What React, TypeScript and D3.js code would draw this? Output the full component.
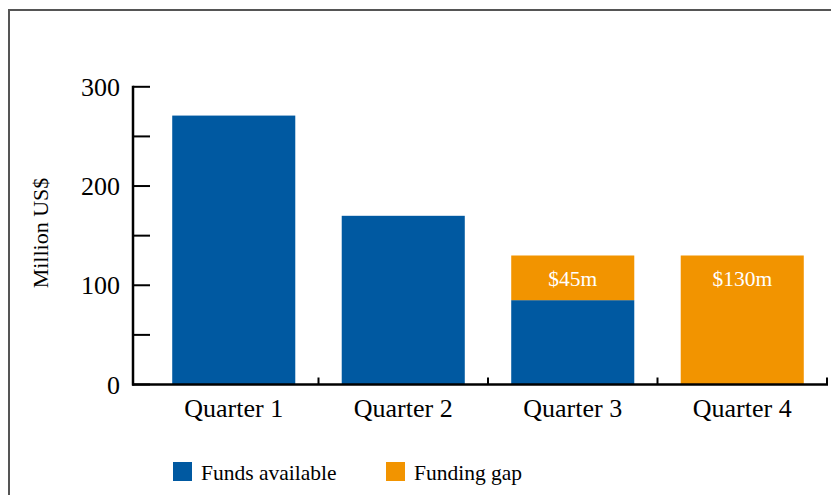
import React, { useEffect, useRef } from "react";
import * as d3 from "d3";

// chart data
const quarters = ["Quarter 1", "Quarter 2", "Quarter 3", "Quarter 4"];
const fundsAvailable = [271, 170, 85, 0];
const fundingGap = [0, 0, 45, 130];
const gapLabels = ["", "", "$45m", "$130m"];
const yTicksMajor = [0, 100, 200, 300];
const yTicksAll = [0, 50, 100, 150, 200, 250, 300];
const seriesNames = ["Funds available", "Funding gap"];

const BLUE = "#0059a1";
const ORANGE = "#f29400";
const FONT = "'Liberation Serif', 'Times New Roman', serif";

const App = () => {
  const ref = useRef(null);

  useEffect(() => {
    const svg = d3.select(ref.current);
    svg.selectAll("*").remove();

    // outer frame (runs past the picture edge on right / bottom)
    svg
      .append("rect")
      .attr("x", 9)
      .attr("y", 10)
      .attr("width", 900)
      .attr("height", 600)
      .attr("fill", "white")
      .attr("stroke", "#555")
      .attr("stroke-width", 2);

    const axisX = 133;
    const x = d3
      .scaleBand()
      .domain(quarters)
      .range([149, 827])
      .paddingInner(0.274)
      .paddingOuter(0.137);

    const y = d3.scaleLinear().domain([0, 300]).range([384.5, 86.8]);

    // bars
    const rows = quarters.map((q, i) => ({
      q,
      funds: fundsAvailable[i],
      gap: fundingGap[i],
      label: gapLabels[i],
    }));

    const g = svg.append("g");
    g.selectAll(".funds")
      .data(rows.filter((d) => d.funds > 0))
      .enter()
      .append("rect")
      .attr("x", (d) => x(d.q))
      .attr("y", (d) => y(d.funds))
      .attr("width", x.bandwidth())
      .attr("height", (d) => y(0) - y(d.funds))
      .attr("fill", BLUE);

    g.selectAll(".gap")
      .data(rows.filter((d) => d.gap > 0))
      .enter()
      .append("rect")
      .attr("x", (d) => x(d.q))
      .attr("y", (d) => y(d.funds + d.gap))
      .attr("width", x.bandwidth())
      .attr("height", (d) => y(d.funds) - y(d.funds + d.gap))
      .attr("fill", ORANGE);

    g.selectAll(".gaplabel")
      .data(rows.filter((d) => d.label))
      .enter()
      .append("text")
      .attr("x", (d) => x(d.q) + x.bandwidth() / 2)
      .attr("y", (d) => y(d.funds + d.gap) + 31)
      .attr("text-anchor", "middle")
      .attr("fill", "white")
      .style("font-family", FONT)
      .style("font-size", "21.5px")
      .text((d) => d.label);

    // y axis
    const yAxis = svg.append("g");
    yAxis
      .append("line")
      .attr("x1", axisX)
      .attr("x2", axisX)
      .attr("y1", y(300) - 1)
      .attr("y2", y(0) + 1)
      .attr("stroke", "black")
      .attr("stroke-width", 2.5);
    yAxis
      .selectAll(".ytick")
      .data(yTicksAll)
      .enter()
      .append("line")
      .attr("x1", axisX)
      .attr("x2", axisX + 17)
      .attr("y1", (d) => y(d))
      .attr("y2", (d) => y(d))
      .attr("stroke", "black")
      .attr("stroke-width", 2);
    yAxis
      .selectAll(".ylabel")
      .data(yTicksMajor)
      .enter()
      .append("text")
      .attr("x", 120)
      .attr("y", (d) => y(d) + 9)
      .attr("text-anchor", "end")
      .style("font-family", FONT)
      .style("font-size", "26px")
      .text((d) => d);

    // x axis
    const xAxis = svg.append("g");
    xAxis
      .append("line")
      .attr("x1", axisX - 1)
      .attr("x2", 828)
      .attr("y1", y(0))
      .attr("y2", y(0))
      .attr("stroke", "black")
      .attr("stroke-width", 2.5);
    xAxis
      .selectAll(".xtick")
      .data(quarters.slice(1).concat(["end"]))
      .enter()
      .append("line")
      .attr("x1", (d) => (d === "end" ? 827 : x(d) - (x.step() - x.bandwidth()) / 2))
      .attr("x2", (d) => (d === "end" ? 827 : x(d) - (x.step() - x.bandwidth()) / 2))
      .attr("y1", y(0))
      .attr("y2", y(0) - 7)
      .attr("stroke", "black")
      .attr("stroke-width", 2);
    xAxis
      .selectAll(".xlabel")
      .data(quarters)
      .enter()
      .append("text")
      .attr("x", (d) => x(d) + x.bandwidth() / 2)
      .attr("y", 417)
      .attr("text-anchor", "middle")
      .style("font-family", FONT)
      .style("font-size", "26px")
      .text((d) => d);

    // axis title
    svg
      .append("text")
      .attr("transform", "translate(48,233) rotate(-90)")
      .attr("text-anchor", "middle")
      .style("font-family", FONT)
      .style("font-size", "22px")
      .text("Million US$");

    // legend
    const legendX = [173, 386];
    const colors = [BLUE, ORANGE];
    const legend = svg
      .selectAll(".legend")
      .data(seriesNames)
      .enter()
      .append("g")
      .attr("transform", (d, i) => `translate(${legendX[i]},462)`);
    legend
      .append("rect")
      .attr("width", 19)
      .attr("height", 19)
      .attr("fill", (d, i) => colors[i]);
    legend
      .append("text")
      .attr("x", 28)
      .attr("y", 18)
      .style("font-family", FONT)
      .style("font-size", "21.5px")
      .text((d) => d);
  }, []);

  return (
    <svg
      ref={ref}
      width={831}
      height={495}
      style={{ position: "absolute", left: 0, top: 0 }}
    />
  );
};

export default App;
